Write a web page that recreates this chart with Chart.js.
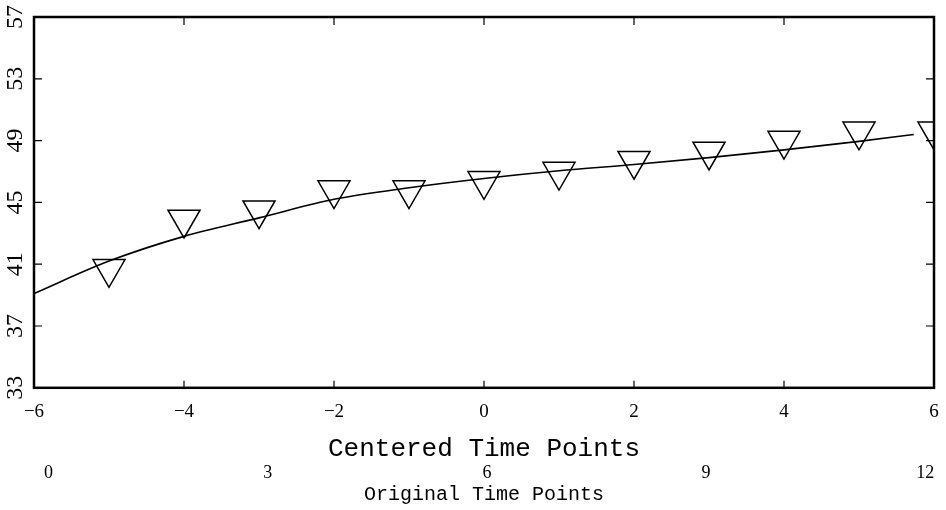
<!DOCTYPE html>
<html>
<head>
<meta charset="utf-8">
<script src="https://cdn.jsdelivr.net/npm/chart.js@4/dist/chart.umd.min.js"></script>
<style>
  body { margin: 0; background: #fff; }
  #wrap { width: 946px; height: 510px; }
</style>
</head>
<body>
<div id="wrap"><canvas id="chart"></canvas></div>
<script>
// observed means at each centered time point
const centeredTimes = [-5, -4, -3, -2, -1, 0, 1, 2, 3, 4, 5, 6];
const observedMeans = [40.7, 43.9, 44.5, 45.8, 45.8, 46.4, 47.0, 47.7, 48.3, 49.0, 49.6, 49.6];

// fitted curve
const curveTimes = [-6, -5, -4, -3, -2, -1, 0, 1, 2, 3, 4, 5, 5.73];
const curveValues = [39.1, 41.2, 42.8, 44.0, 45.2, 45.95, 46.55, 47.05, 47.45, 47.9, 48.4, 48.95, 49.4];

// tick labels
const centeredTicks = [-6, -4, -2, 0, 2, 4, 6];
const originalTicks = [0, 3, 6, 9, 12];
const yTicks = [33, 37, 41, 45, 49, 53, 57];

const tickFont = {family: 'Liberation Serif', size: 19};

// box round the plot and the small inward tick marks on all four sides
const framePlugin = {
  id: 'frame',
  afterDraw(chart) {
    const {ctx, chartArea: a, scales} = chart;
    ctx.save();
    ctx.strokeStyle = '#000';
    ctx.lineWidth = 2.5;
    ctx.strokeRect(a.left, a.top, a.right - a.left, a.bottom - a.top);
    ctx.lineWidth = 1.2;
    ctx.beginPath();
    scales.x.ticks.forEach(t => {
      const px = scales.x.getPixelForValue(t.value);
      ctx.moveTo(px, a.bottom);
      ctx.lineTo(px, a.bottom - 7);
      ctx.moveTo(px, a.top);
      ctx.lineTo(px, a.top + 8);
    });
    scales.y.ticks.forEach(t => {
      const py = scales.y.getPixelForValue(t.value);
      ctx.moveTo(a.left, py);
      ctx.lineTo(a.left + 8, py);
      ctx.moveTo(a.right, py);
      ctx.lineTo(a.right - 8, py);
    });
    ctx.stroke();
    ctx.restore();
  }
};

// keep the labels from pushing the plot area in
function noSidePadding(axis) {
  axis.paddingLeft = 0;
  axis.paddingRight = 0;
}

new Chart(document.getElementById('chart'), {
  type: 'scatter',
  data: {
    datasets: [{
      label: 'Observed',
      data: centeredTimes.map((t, i) => ({x: t, y: observedMeans[i]})),
      pointStyle: 'triangle',
      rotation: 180,
      pointRadius: 18.5,
      pointHoverRadius: 18.5,
      pointBorderColor: '#000',
      pointBackgroundColor: 'rgba(0,0,0,0)',
      pointBorderWidth: 1.5,
      showLine: false
    }, {
      label: 'Fitted',
      data: curveTimes.map((t, i) => ({x: t, y: curveValues[i]})),
      showLine: true,
      borderColor: '#000',
      borderWidth: 1.6,
      pointRadius: 0,
      cubicInterpolationMode: 'monotone'
    }]
  },
  options: {
    responsive: true,
    maintainAspectRatio: false,
    animation: false,
    layout: {autoPadding: false, padding: {left: 0, right: 12, top: 17, bottom: 5}},
    plugins: {legend: {display: false}, tooltip: {enabled: false}},
    scales: {
      x: {
        type: 'linear',
        position: 'bottom',
        weight: 0,
        min: -6,
        max: 6,
        afterBuildTicks: axis => { axis.ticks = centeredTicks.map(v => ({value: v})); },
        afterFit: noSidePadding,
        grid: {display: false, drawTicks: false},
        border: {display: false},
        ticks: {
          color: '#000',
          font: tickFont,
          padding: 13,
          autoSkip: false,
          maxRotation: 0,
          callback: v => v < 0 ? '\u2212' + Math.abs(v) : String(v)
        },
        title: {
          display: true,
          text: 'Centered Time Points',
          color: '#000',
          font: {family: 'Liberation Mono', size: 26, lineHeight: 0.923},
          padding: {top: 0.2, bottom: 0}
        }
      },
      x2: {
        type: 'linear',
        position: 'bottom',
        weight: 1,
        min: -0.2,
        max: 12.12,
        afterBuildTicks: axis => { axis.ticks = originalTicks.map(v => ({value: v})); },
        afterFit: noSidePadding,
        grid: {display: false, drawTicks: false},
        border: {display: false},
        ticks: {
          color: '#000',
          font: {family: 'Liberation Serif', size: 18},
          padding: 1.3,
          autoSkip: false,
          maxRotation: 0
        },
        title: {
          display: true,
          text: 'Original Time Points',
          color: '#000',
          font: {family: 'Liberation Mono', size: 20, lineHeight: 1},
          padding: {top: 0, bottom: 0}
        }
      },
      y: {
        type: 'linear',
        min: 33,
        max: 57,
        afterBuildTicks: axis => { axis.ticks = yTicks.map(v => ({value: v})); },
        afterFit: axis => {
          axis.width = 34;
          axis.paddingTop = 0;
          axis.paddingBottom = 0;
        },
        grid: {display: false, drawTicks: false},
        border: {display: false},
        ticks: {
          color: '#000',
          font: {family: 'Liberation Serif', size: 24},
          padding: 6,
          autoSkip: false,
          minRotation: 90,
          maxRotation: 90,
          crossAlign: 'center'
        }
      }
    }
  },
  plugins: [framePlugin]
});
</script>
</body>
</html>
